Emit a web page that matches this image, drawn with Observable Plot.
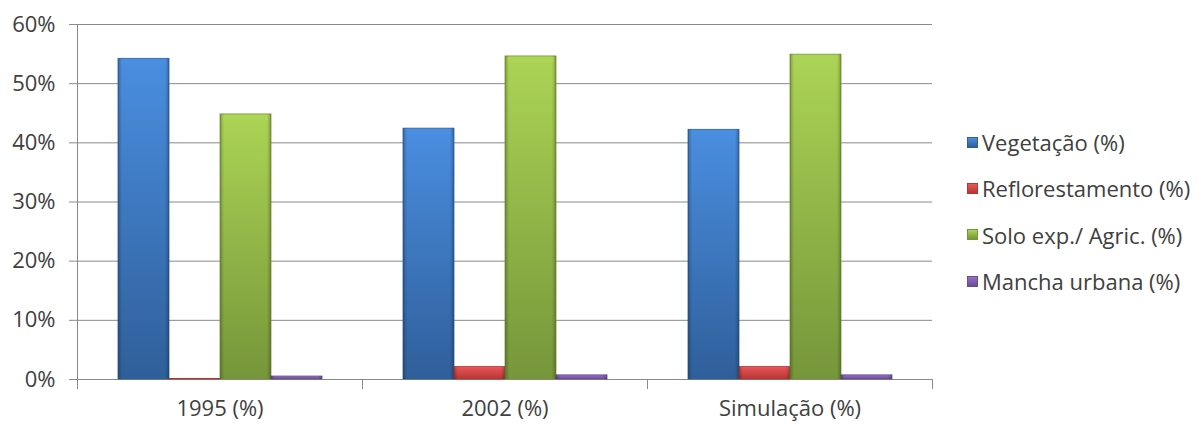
<!DOCTYPE html>
<html><head><meta charset="utf-8">
<script src="https://cdn.jsdelivr.net/npm/d3@7"></script>
<script src="https://cdn.jsdelivr.net/npm/@observablehq/plot@0.6"></script>
<style>
body{margin:0;background:#fff;font-family:"Open Sans",sans-serif;}
#wrap{position:relative;width:1204px;height:425px;}
#legend{position:absolute;left:967px;top:119px;}
.item{display:flex;align-items:center;height:46.3px;font-size:22px;color:#404040;white-space:nowrap;}
.sw{width:11px;height:11px;margin-right:4px;box-sizing:border-box;}
</style></head><body><div id="wrap"><div id="legend"></div></div>
<script>
const categories = ["1995 (%)", "2002 (%)", "Simulação (%)"];
const seriesNames = ["Vegetação (%)", "Reflorestamento (%)", "Solo exp./ Agric. (%)", "Mancha urbana (%)"];
const vegetacao = [54.2, 42.4, 42.2];
const reflorestamento = [0.1, 2.1, 2.1];
const soloAgric = [44.8, 54.6, 54.9];
const manchaUrbana = [0.5, 0.7, 0.7];
const yTicks = [0, 10, 20, 30, 40, 50, 60];
const topColors = ["#4a8ee0", "#e85858", "#acd455", "#9670c8"];
const bottomColors = ["#2f5f9a", "#b83434", "#76963a", "#6a4c94"];

const seriesValues = [vegetacao, reflorestamento, soloAgric, manchaUrbana];
const table = categories.flatMap((c, i) => seriesNames.map((s, j) => ({category: c, series: s, idx: j, value: seriesValues[j][i]})));

const grid = "#8a8a8a";
const plot = Plot.plot({
  width: 1204, height: 425,
  marginTop: 24, marginBottom: 46, marginLeft: 76, marginRight: 271,
  style: {fontFamily: "'Open Sans', sans-serif", fontSize: "22px", color: "#404040", background: "#fff", overflow: "visible"},
  fx: {domain: categories, paddingInner: 0, paddingOuter: 0, label: null},
  x: {domain: seriesNames, paddingInner: 0, paddingOuter: 0.75, axis: null},
  y: {domain: [0, 60], label: null},
  color: {type: "identity"},
  marks: [
    Plot.ruleY(yTicks, {stroke: grid, strokeWidth: 1}),
    Plot.axisY(yTicks, {tickSize: 8, tickPadding: 14, tickFormat: d => d + "%", stroke: grid, label: null}),
    Plot.axisFx({tickSize: 0, tickPadding: 21, label: null, anchor: "bottom"}),
    Plot.frame({anchor: "left", facetAnchor: "left", insetBottom: -9, stroke: grid}),
    Plot.frame({anchor: "left", insetTop: 355, insetBottom: -9, stroke: grid}),
    Plot.frame({anchor: "right", insetTop: 355, insetBottom: -9, stroke: grid}),
    Plot.barY(table, {fx: "category", x: "series", y: "value", fill: d => `url(#g${d.idx})`, stroke: d => bottomColors[d.idx], strokeWidth: 0.8}),
    Plot.barY(table, {fx: "category", x: "series", y: "value", fill: "url(#hshade)"}),
    Plot.tickY(table.filter(d => d.value > 5), {fx: "category", x: "series", y: "value", stroke: d => topColors[d.idx], strokeWidth: 5, dy: 3, inset: 3, strokeOpacity: 0.9})
  ]
});

const svg = d3.select(plot);
const defs = svg.insert("defs", ":first-child");
topColors.forEach((c, i) => {
  const g = defs.append("linearGradient").attr("id", "g" + i).attr("x1", 0).attr("y1", 0).attr("x2", 0).attr("y2", 1);
  g.append("stop").attr("offset", "0%").attr("stop-color", c);
  g.append("stop").attr("offset", "100%").attr("stop-color", bottomColors[i]);
});
const h = defs.append("linearGradient").attr("id", "hshade").attr("x1", 0).attr("y1", 0).attr("x2", 1).attr("y2", 0);
h.append("stop").attr("offset", "0%").attr("stop-color", "#000").attr("stop-opacity", 0.25);
h.append("stop").attr("offset", "8%").attr("stop-color", "#000").attr("stop-opacity", 0.0);
h.append("stop").attr("offset", "92%").attr("stop-color", "#000").attr("stop-opacity", 0.0);
h.append("stop").attr("offset", "100%").attr("stop-color", "#000").attr("stop-opacity", 0.25);

document.getElementById("wrap").prepend(plot);
const legend = d3.select("#legend");
seriesNames.forEach((s, i) => {
  const it = legend.append("div").attr("class", "item");
  it.append("div").attr("class", "sw").style("background", `linear-gradient(${topColors[i]}, ${bottomColors[i]})`).style("border", `1px solid ${bottomColors[i]}`);
  it.append("span").text(s);
});
</script>
</body></html>
